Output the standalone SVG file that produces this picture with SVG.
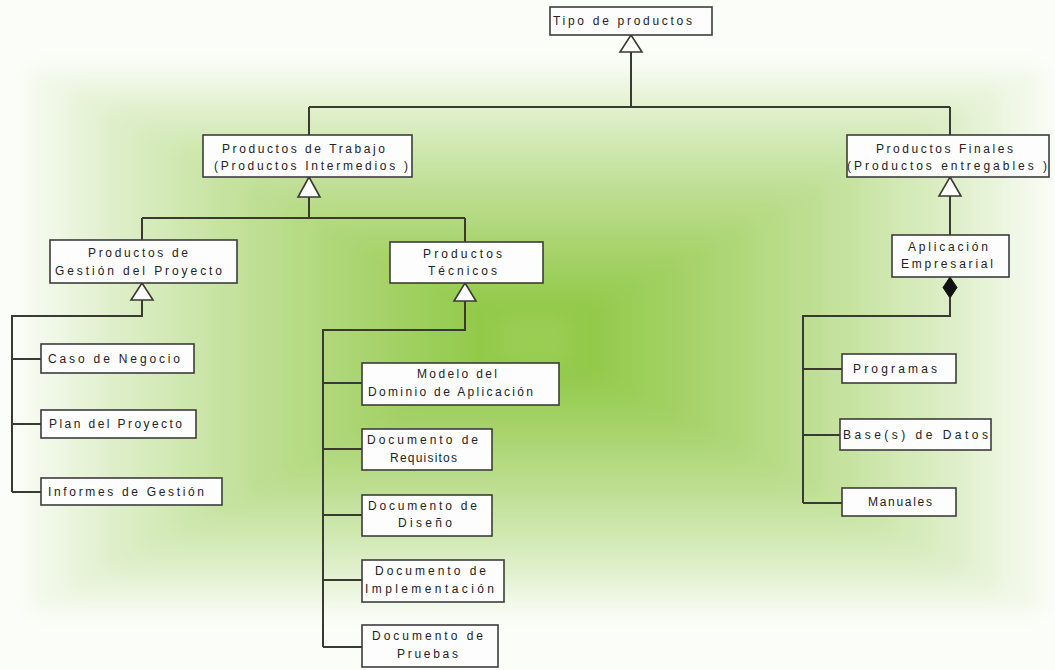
<svg xmlns="http://www.w3.org/2000/svg" width="1055" height="670" viewBox="0 0 1055 670">
  <style>
    .box { fill: #fdfdfd; stroke: #3c3c3c; stroke-width: 1.6; }
    .lbl { font-family: "Liberation Sans", Arial, sans-serif; font-size: 12px; fill: #232323; text-anchor: middle; }
    .wire { fill: none; stroke: #3a3a32; stroke-width: 2; }
    .gen { fill: #ffffff; stroke: #3a3a32; stroke-width: 1.6; }
    .comp { fill: #111111; stroke: #111111; stroke-width: 1; }
  </style>
  <defs>
    <filter id="soften" x="-10%" y="-10%" width="120%" height="120%">
      <feGaussianBlur stdDeviation="10"/>
    </filter>
  </defs>

  <!-- backdrop: box-shaped green glow, nested bands from the edge inwards, softened -->
  <rect x="0" y="0" width="1055" height="670" fill="#ffffff"/>
  <g id="backdrop" filter="url(#soften)">
    <rect x="-20" y="-20" width="1095" height="710" fill="#fbfdf8"/>
    <rect x="31" y="69" width="1008" height="542" fill="#f1f8e8"/>
    <rect x="67" y="88" width="936" height="504" fill="#e7f3d7"/>
    <rect x="103" y="107" width="864" height="466" fill="#ddeec7"/>
    <rect x="139" y="126" width="792" height="428" fill="#d5eab9"/>
    <rect x="175" y="145" width="720" height="390" fill="#cce6ab"/>
    <rect x="211" y="164" width="648" height="352" fill="#c5e29e"/>
    <rect x="247" y="183" width="576" height="314" fill="#bdde91"/>
    <rect x="283" y="202" width="504" height="276" fill="#b6db84"/>
    <rect x="319" y="221" width="432" height="238" fill="#aed778"/>
    <rect x="355" y="240" width="360" height="200" fill="#a7d36c"/>
    <rect x="391" y="259" width="288" height="162" fill="#a0d061"/>
    <rect x="427" y="278" width="216" height="124" fill="#99cd55"/>
    <rect x="463" y="297" width="144" height="86" fill="#93c94a"/>
    <rect x="499" y="316" width="72" height="48" fill="#9ace52"/>
  </g>

  <!-- connectors: generalisation trees and the composition from Aplicación Empresarial -->
  <g id="connectors">
    <!-- Tipo de productos -->
    <path class="wire" d="M631 52 V107 M309 107 H950 M309 107 V135 M950 107 V135"/>
    <polygon class="gen" points="631,35 642,52 620,52"/>

    <!-- Productos de Trabajo -->
    <path class="wire" d="M309 197 V218 M142 218 H465 M142 218 V240 M465 218 V242"/>
    <polygon class="gen" points="309,177 320,197 298,197"/>

    <!-- Productos de Gestión del Proyecto -->
    <path class="wire" d="M142 300 V316 H12 V492 M12 359 H41 M12 424 H41 M12 492 H41"/>
    <polygon class="gen" points="142,283 153,300 131,300"/>

    <!-- Productos Técnicos -->
    <path class="wire" d="M465 301 V330 H323 V647 M323 383 H362 M323 449 H362 M323 515 H362 M323 580 H362 M323 647 H362"/>
    <polygon class="gen" points="465,283 476,301 454,301"/>

    <!-- Productos Finales -->
    <path class="wire" d="M950 196 V235"/>
    <polygon class="gen" points="950,177 961,196 939,196"/>

    <!-- Aplicación Empresarial -->
    <path class="wire" d="M950 298 V316 H803 V503 M803 369 H842 M803 435 H840 M803 503 H842"/>
    <polygon class="comp" points="950,277 957,287.5 950,298 943,287.5"/>
  </g>

  <g id="tipo-de-productos">
    <rect class="box" x="550" y="7" width="162" height="28"/>
    <text class="lbl" x="622.5" y="25" textLength="139" lengthAdjust="spacing">Tipo de productos</text>
  </g>

  <g id="productos-de-trabajo">
    <rect class="box" x="203" y="135" width="209" height="42"/>
    <text class="lbl" x="303.5" y="153" textLength="163" lengthAdjust="spacing">Productos de Trabajo</text>
    <text class="lbl" x="311" y="170" textLength="194" lengthAdjust="spacing">(Productos Intermedios )</text>
  </g>

  <g id="productos-finales">
    <rect class="box" x="847" y="135" width="202" height="42"/>
    <text class="lbl" x="944.5" y="153" textLength="137" lengthAdjust="spacing">Productos Finales</text>
    <text class="lbl" x="947" y="170" textLength="200" lengthAdjust="spacing">(Productos entregables )</text>
  </g>

  <g id="aplicacion-empresarial">
    <rect class="box" x="892" y="235" width="117" height="42"/>
    <text class="lbl" x="948" y="251" textLength="80" lengthAdjust="spacing">Aplicación</text>
    <text class="lbl" x="947" y="268" textLength="92" lengthAdjust="spacing">Empresarial</text>
  </g>

  <g id="productos-de-gestion">
    <rect class="box" x="50" y="240" width="187" height="43"/>
    <text class="lbl" x="138" y="257" textLength="100" lengthAdjust="spacing">Productos de</text>
    <text class="lbl" x="138.5" y="275" textLength="167" lengthAdjust="spacing">Gestión del Proyecto</text>
  </g>

  <g id="productos-tecnicos">
    <rect class="box" x="390" y="242" width="153" height="41"/>
    <text class="lbl" x="462.5" y="258" textLength="79" lengthAdjust="spacing">Productos</text>
    <text class="lbl" x="462.5" y="275" textLength="69" lengthAdjust="spacing">Técnicos</text>
  </g>

  <g id="caso-de-negocio">
    <rect class="box" x="41" y="344" width="153" height="29"/>
    <text class="lbl" x="114" y="362.5" textLength="132" lengthAdjust="spacing">Caso de Negocio</text>
  </g>

  <g id="plan-del-proyecto">
    <rect class="box" x="41" y="410" width="155" height="28"/>
    <text class="lbl" x="115.5" y="428" textLength="133" lengthAdjust="spacing">Plan del Proyecto</text>
  </g>

  <g id="informes-de-gestion">
    <rect class="box" x="41" y="478" width="181" height="27"/>
    <text class="lbl" x="126" y="496" textLength="156" lengthAdjust="spacing">Informes de Gestión</text>
  </g>

  <g id="modelo-del-dominio">
    <rect class="box" x="362" y="363" width="197" height="42"/>
    <text class="lbl" x="457" y="378" textLength="80" lengthAdjust="spacing">Modelo del</text>
    <text class="lbl" x="450.5" y="396" textLength="165" lengthAdjust="spacing">Dominio de Aplicación</text>
  </g>

  <g id="documento-requisitos">
    <rect class="box" x="362" y="429" width="130" height="41"/>
    <text class="lbl" x="422.5" y="444" textLength="111" lengthAdjust="spacing">Documento de</text>
    <text class="lbl" x="423.5" y="462" textLength="67" lengthAdjust="spacing">Requisitos</text>
  </g>

  <g id="documento-diseno">
    <rect class="box" x="362" y="495" width="130" height="41"/>
    <text class="lbl" x="422.5" y="510" textLength="109" lengthAdjust="spacing">Documento de</text>
    <text class="lbl" x="425" y="527" textLength="54" lengthAdjust="spacing">Diseño</text>
  </g>

  <g id="documento-implementacion">
    <rect class="box" x="362" y="560" width="142" height="42"/>
    <text class="lbl" x="430.5" y="575" textLength="111" lengthAdjust="spacing">Documento de</text>
    <text class="lbl" x="429.5" y="593" textLength="129" lengthAdjust="spacing">Implementación</text>
  </g>

  <g id="documento-pruebas">
    <rect class="box" x="362" y="625" width="136" height="42"/>
    <text class="lbl" x="427.5" y="640" textLength="111" lengthAdjust="spacing">Documento de</text>
    <text class="lbl" x="427.5" y="658" textLength="61" lengthAdjust="spacing">Pruebas</text>
  </g>

  <g id="programas">
    <rect class="box" x="842" y="354" width="114" height="29"/>
    <text class="lbl" x="895" y="372.5" textLength="84" lengthAdjust="spacing">Programas</text>
  </g>

  <g id="bases-de-datos">
    <rect class="box" x="840" y="419" width="151" height="31"/>
    <text class="lbl" x="915.5" y="438.5" textLength="145" lengthAdjust="spacing">Base(s) de Datos</text>
  </g>

  <g id="manuales">
    <rect class="box" x="842" y="488" width="114" height="28"/>
    <text class="lbl" x="900" y="506" textLength="64" lengthAdjust="spacing">Manuales</text>
  </g>
</svg>
